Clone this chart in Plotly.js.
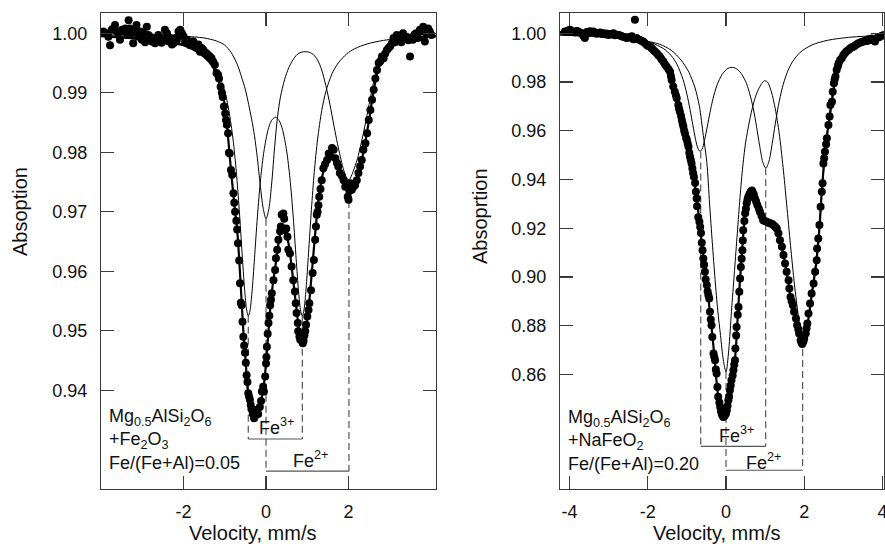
<!DOCTYPE html>
<html><head><meta charset="utf-8">
<script src="https://cdn.plot.ly/plotly-3.0.1.min.js"></script>
<style>html,body{margin:0;padding:0;background:#fff}#chart{width:885px;height:546px}</style>
</head><body><div id="chart"></div>
<script>
// ---------- LEFT PANEL: Mg0.5AlSi2O6 + Fe2O3 ----------
const leftDataX = [-3.94,-3.88,-3.82,-3.78,-3.74,-3.70,-3.66,-3.62,-3.58,-3.54,-3.49,-3.45,-3.41,-3.37,-3.33,-3.30,-3.26,-3.22,-3.18,-3.14,-3.10,-3.05,-3.01,-2.97,-2.93,-2.89,-2.85,-2.81,-2.77,-2.73,-2.69,-2.65,-2.61,-2.57,-2.53,-2.49,-2.45,-2.40,-2.36,-2.32,-2.28,-2.24,-2.20,-2.16,-2.12,-2.08,-2.04,-2.00,-1.96,-1.92,-1.88,-1.84,-1.80,-1.76,-1.72,-1.68,-1.64,-1.60,-1.56,-1.52,-1.48,-1.44,-1.40,-1.36,-1.32,-1.28,-1.24,-1.20,-1.16,-1.14,-1.10,-1.07,-1.05,-1.02,-0.99,-0.97,-0.95,-0.92,-0.90,-0.88,-0.85,-0.82,-0.79,-0.77,-0.75,-0.72,-0.70,-0.68,-0.65,-0.63,-0.61,-0.59,-0.57,-0.55,-0.53,-0.51,-0.49,-0.47,-0.45,-0.43,-0.41,-0.39,-0.37,-0.35,-0.32,-0.29,-0.27,-0.25,-0.23,-0.21,-0.19,-0.15,-0.12,-0.10,-0.07,-0.05,-0.02,0.00,0.01,0.02,0.04,0.06,0.08,0.10,0.12,0.14,0.18,0.22,0.24,0.27,0.30,0.34,0.36,0.38,0.42,0.44,0.46,0.49,0.52,0.54,0.58,0.62,0.66,0.70,0.72,0.74,0.77,0.78,0.81,0.83,0.86,0.89,0.91,0.93,0.95,0.97,1.00,1.03,1.05,1.09,1.13,1.16,1.19,1.21,1.23,1.25,1.27,1.29,1.32,1.35,1.39,1.43,1.48,1.52,1.56,1.60,1.64,1.68,1.72,1.75,1.79,1.84,1.88,1.92,1.96,1.98,2.00,2.02,2.04,2.08,2.12,2.16,2.20,2.24,2.28,2.32,2.36,2.41,2.45,2.49,2.53,2.57,2.61,2.65,2.69,2.73,2.77,2.81,2.85,2.89,2.93,2.97,3.01,3.05,3.09,3.13,3.17,3.21,3.24,3.28,3.32,3.36,3.40,3.45,3.49,3.52,3.56,3.60,3.64,3.68,3.73,3.77,3.81,3.85,3.89,3.93,3.97,4.01];
const leftDataY = [1.0003,1.0000,0.9994,0.9980,1.0006,1.0008,1.0014,1.0003,1.0000,0.9989,1.0006,1.0003,1.0008,1.0000,1.0022,1.0008,1.0000,0.9983,1.0003,1.0014,0.9994,1.0003,0.9989,1.0000,0.9985,1.0011,0.9997,0.9994,0.9986,0.9992,0.9983,0.9989,0.9997,0.9994,0.9984,0.9989,1.0006,1.0000,0.9986,0.9992,0.9981,0.9983,0.9992,0.9989,1.0003,1.0006,1.0000,0.9995,0.9986,0.9989,0.9983,0.9980,0.9986,0.9986,0.9980,0.9978,0.9981,0.9969,0.9975,0.9972,0.9968,0.9966,0.9963,0.9961,0.9958,0.9952,0.9947,0.9933,0.9930,0.9924,0.9910,0.9900,0.9893,0.9877,0.9865,0.9854,0.9846,0.9832,0.9799,0.9798,0.9770,0.9762,0.9731,0.9715,0.9700,0.9685,0.9670,0.9647,0.9618,0.9580,0.9547,0.9543,0.9515,0.9490,0.9475,0.9463,0.9446,0.9425,0.9414,0.9395,0.9389,0.9384,0.9375,0.9368,0.9360,0.9353,0.9364,0.9358,0.9367,0.9361,0.9360,0.9372,0.9382,0.9398,0.9406,0.9398,0.9423,0.9445,0.9456,0.9473,0.9495,0.9513,0.9525,0.9543,0.9552,0.9563,0.9585,0.9602,0.9622,0.9636,0.9653,0.9667,0.9675,0.9695,0.9697,0.9688,0.9669,0.9672,0.9658,0.9636,0.9630,0.9608,0.9585,0.9566,0.9546,0.9530,0.9513,0.9499,0.9490,0.9485,0.9487,0.9479,0.9483,0.9492,0.9499,0.9510,0.9524,0.9535,0.9546,0.9568,0.9597,0.9619,0.9653,0.9675,0.9695,0.9700,0.9711,0.9725,0.9738,0.9753,0.9773,0.9780,0.9787,0.9798,0.9793,0.9807,0.9804,0.9790,0.9782,0.9776,0.9765,0.9760,0.9753,0.9742,0.9745,0.9725,0.9720,0.9735,0.9748,0.9737,0.9742,0.9745,0.9753,0.9765,0.9776,0.9787,0.9804,0.9815,0.9832,0.9854,0.9871,0.9888,0.9905,0.9924,0.9938,0.9950,0.9953,0.9961,0.9958,0.9966,0.9972,0.9975,0.9978,0.9983,0.9992,0.9985,0.9997,0.9988,0.9992,0.9985,1.0000,0.9994,0.9994,0.9988,0.9961,0.9993,0.9989,0.9998,1.0000,0.9992,1.0006,1.0003,1.0011,0.9986,1.0000,1.0008,1.0003,0.9997];

const leftFitX = [-4.0,-3.0,-2.4,-2.0,-1.7,-1.5,-1.3,-1.2,-1.1,-1.0,-0.9,-0.85,-0.8,-0.75,-0.7,-0.65,-0.6,-0.55,-0.5,-0.45,-0.4,-0.35,-0.3,-0.25,-0.2,-0.15,-0.1,-0.05,0.0,0.05,0.1,0.15,0.2,0.25,0.3,0.35,0.4,0.45,0.5,0.55,0.6,0.65,0.7,0.75,0.8,0.85,0.9,0.95,1.0,1.05,1.1,1.15,1.2,1.25,1.3,1.4,1.5,1.6,1.7,1.8,1.9,2.0,2.1,2.2,2.3,2.4,2.5,2.6,2.7,2.8,3.0,3.3,3.7,4.12];
const leftFitY = [0.9995,0.9990,0.9985,0.9980,0.9970,0.9960,0.9945,0.9930,0.9910,0.9880,0.9810,0.9770,0.9735,0.9700,0.9670,0.9620,0.9560,0.9500,0.9455,0.9405,0.9375,0.9362,0.9355,0.9360,0.9365,0.9375,0.9390,0.9410,0.9445,0.9490,0.9535,0.9570,0.9595,0.9620,0.9645,0.9665,0.9675,0.9670,0.9660,0.9645,0.9620,0.9590,0.9560,0.9530,0.9500,0.9485,0.9480,0.9495,0.9520,0.9550,0.9590,0.9630,0.9670,0.9705,0.9735,0.9770,0.9790,0.9795,0.9780,0.9765,0.9750,0.9742,0.9745,0.9755,0.9780,0.9815,0.9855,0.9900,0.9935,0.9960,0.9980,0.9990,0.9993,0.9995];

const leftFe3X = [-4.0,-3.0,-2.4,-2.0,-1.7,-1.5,-1.3,-1.15,-1.0,-0.9,-0.8,-0.72,-0.65,-0.58,-0.52,-0.47,-0.43,-0.39,-0.34,-0.28,-0.21,-0.13,-0.05,0.05,0.13,0.225,0.32,0.4,0.5,0.58,0.66,0.73,0.79,0.84,0.88,0.92,0.97,1.03,1.1,1.17,1.25,1.35,1.45,1.6,1.75,1.95,2.15,2.45,2.85,3.5,4.12];
const leftFe3Y = [0.9996,0.9992,0.9988,0.9982,0.9974,0.9965,0.9950,0.9932,0.9902,0.9870,0.9822,0.9767,0.9704,0.9630,0.9570,0.9535,0.9525,0.9533,0.9565,0.9621,0.9691,0.9756,0.9802,0.9838,0.9853,0.9859,0.9853,0.9838,0.9802,0.9756,0.9691,0.9621,0.9565,0.9533,0.9525,0.9535,0.9570,0.9630,0.9704,0.9767,0.9822,0.9870,0.9902,0.9932,0.9950,0.9965,0.9974,0.9982,0.9988,0.9993,0.9995];

const leftFe2X = [-4.0,-3.0,-2.0,-1.5,-1.2,-1.0,-0.85,-0.7,-0.6,-0.5,-0.42,-0.35,-0.28,-0.21,-0.14,-0.07,0.0,0.07,0.14,0.21,0.28,0.35,0.45,0.55,0.65,0.75,0.85,0.95,1.05,1.15,1.25,1.35,1.45,1.55,1.65,1.73,1.8,1.87,1.94,2.01,2.08,2.15,2.22,2.29,2.37,2.47,2.6,2.8,3.0,3.5,4.12];
const leftFe2Y = [0.9997,0.9997,0.9995,0.9992,0.9987,0.9980,0.9968,0.9948,0.9928,0.9905,0.9880,0.9856,0.9828,0.9790,0.9745,0.9706,0.9688,0.9705,0.9750,0.9810,0.9860,0.9893,0.9922,0.9942,0.9955,0.9964,0.9968,0.9969,0.9968,0.9964,0.9955,0.9938,0.9912,0.9880,0.9843,0.9815,0.9793,0.9773,0.9759,0.9753,0.9762,0.9775,0.9790,0.9810,0.9835,0.9870,0.9915,0.9965,0.9980,0.9990,0.9994];

const leftFe3Pos = [-0.43, 0.88], leftFe3Min = [0.9525, 0.9525], leftFe3Bar = 0.9318;
const leftFe2Pos = [0.0, 2.01],   leftFe2Min = [0.9688, 0.9755], leftFe2Bar = 0.9264;

// ---------- RIGHT PANEL: Mg0.5AlSi2O6 + NaFeO2 ----------
const rightDataX = [-4.12,-4.07,-4.03,-3.99,-3.95,-3.91,-3.86,-3.82,-3.78,-3.74,-3.69,-3.65,-3.61,-3.56,-3.52,-3.48,-3.43,-3.39,-3.35,-3.31,-3.27,-3.22,-3.18,-3.14,-3.10,-3.06,-3.01,-2.97,-2.93,-2.88,-2.84,-2.80,-2.75,-2.71,-2.67,-2.63,-2.58,-2.54,-2.50,-2.45,-2.41,-2.37,-2.33,-2.29,-2.25,-2.20,-2.16,-2.12,-2.08,-2.03,-1.99,-1.94,-1.90,-1.86,-1.82,-1.77,-1.73,-1.69,-1.65,-1.60,-1.56,-1.52,-1.47,-1.43,-1.41,-1.39,-1.35,-1.31,-1.28,-1.26,-1.22,-1.20,-1.18,-1.15,-1.13,-1.11,-1.09,-1.07,-1.05,-1.02,-1.00,-0.98,-0.96,-0.94,-0.92,-0.90,-0.88,-0.86,-0.84,-0.82,-0.79,-0.77,-0.75,-0.74,-0.71,-0.68,-0.66,-0.64,-0.62,-0.60,-0.58,-0.56,-0.54,-0.52,-0.49,-0.47,-0.45,-0.43,-0.41,-0.39,-0.37,-0.35,-0.32,-0.30,-0.28,-0.26,-0.24,-0.22,-0.20,-0.17,-0.15,-0.13,-0.11,-0.09,-0.07,-0.05,-0.03,0.00,0.02,0.04,0.06,0.08,0.10,0.12,0.14,0.17,0.19,0.21,0.23,0.24,0.26,0.27,0.30,0.32,0.34,0.36,0.38,0.40,0.42,0.43,0.44,0.47,0.49,0.51,0.53,0.55,0.57,0.60,0.63,0.66,0.68,0.71,0.74,0.77,0.80,0.84,0.87,0.91,0.95,0.99,1.04,1.09,1.13,1.17,1.21,1.26,1.30,1.34,1.38,1.43,1.47,1.51,1.55,1.60,1.62,1.65,1.68,1.71,1.74,1.79,1.82,1.85,1.87,1.91,1.93,1.95,1.98,2.00,2.04,2.06,2.08,2.11,2.15,2.19,2.24,2.28,2.32,2.33,2.36,2.39,2.42,2.45,2.47,2.49,2.51,2.53,2.56,2.58,2.62,2.65,2.67,2.71,2.73,2.76,2.78,2.80,2.83,2.86,2.88,2.92,2.96,3.00,3.04,3.08,3.13,3.18,3.22,3.26,3.30,3.35,3.39,3.44,3.48,3.52,3.57,3.61,3.65,3.69,3.73,3.77,3.81,3.86,3.90,3.94,3.99,4.04];
const rightDataY = [1.0007,1.0007,1.0011,1.0014,1.0005,1.0007,1.0003,1.0009,1.0007,1.0002,1.0000,0.9990,0.9980,1.0005,1.0000,1.0008,1.0003,1.0007,1.0001,0.9998,1.0000,1.0003,0.9997,1.0000,0.9996,0.9999,0.9993,0.9997,0.9995,1.0000,0.9992,0.9994,0.9993,0.9991,0.9988,0.9986,0.9984,0.9980,0.9984,0.9982,0.9988,0.9975,1.0055,0.9980,0.9975,0.9972,0.9968,0.9966,0.9960,0.9952,0.9948,0.9945,0.9938,0.9931,0.9925,0.9918,0.9910,0.9904,0.9893,0.9883,0.9872,0.9863,0.9852,0.9842,0.9825,0.9808,0.9781,0.9760,0.9745,0.9733,0.9706,0.9690,0.9678,0.9660,0.9644,0.9630,0.9617,0.9600,0.9589,0.9570,0.9562,0.9548,0.9534,0.9510,0.9493,0.9480,0.9466,0.9445,0.9425,0.9410,0.9385,0.9350,0.9322,0.9290,0.9245,0.9226,0.9205,0.9180,0.9140,0.9110,0.9076,0.9050,0.9021,0.8990,0.8966,0.8940,0.8925,0.8912,0.8857,0.8825,0.8802,0.8754,0.8686,0.8672,0.8658,0.8620,0.8604,0.8549,0.8508,0.8485,0.8467,0.8450,0.8439,0.8432,0.8425,0.8428,0.8432,0.8440,0.8453,0.8472,0.8494,0.8510,0.8535,0.8555,0.8576,0.8596,0.8617,0.8640,0.8658,0.8706,0.8760,0.8795,0.8845,0.8877,0.8939,0.8994,0.9041,0.9075,0.9110,0.9150,0.9192,0.9230,0.9261,0.9280,0.9302,0.9318,0.9329,0.9340,0.9350,0.9355,0.9350,0.9338,0.9322,0.9310,0.9295,0.9280,0.9267,0.9250,0.9233,0.9230,0.9226,0.9222,0.9220,0.9218,0.9213,0.9206,0.9199,0.9179,0.9151,0.9124,0.9090,0.9055,0.9021,0.8987,0.8953,0.8918,0.8900,0.8884,0.8857,0.8830,0.8802,0.8785,0.8768,0.8740,0.8730,0.8725,0.8735,0.8747,0.8768,0.8790,0.8809,0.8850,0.8891,0.8932,0.8973,0.9021,0.9069,0.9117,0.9158,0.9213,0.9288,0.9350,0.9384,0.9466,0.9487,0.9514,0.9545,0.9569,0.9623,0.9658,0.9706,0.9719,0.9760,0.9795,0.9810,0.9822,0.9849,0.9865,0.9877,0.9890,0.9897,0.9910,0.9918,0.9925,0.9931,0.9938,0.9942,0.9945,0.9950,0.9955,0.9959,0.9962,0.9965,0.9966,0.9970,0.9968,0.9975,0.9972,0.9978,0.9975,0.9966,0.9980,0.9983,0.9986,0.9990,0.9993];

const rightFitX = [-4.25,-4.0,-3.5,-3.0,-2.6,-2.3,-2.1,-1.9,-1.7,-1.55,-1.4,-1.3,-1.2,-1.1,-1.0,-0.9,-0.8,-0.7,-0.6,-0.5,-0.4,-0.3,-0.2,-0.1,-0.05,0.0,0.05,0.1,0.2,0.25,0.3,0.35,0.4,0.45,0.5,0.57,0.65,0.72,0.8,0.9,1.0,1.1,1.2,1.3,1.38,1.47,1.55,1.65,1.75,1.85,1.92,1.96,2.02,2.1,2.2,2.3,2.38,2.45,2.53,2.6,2.7,2.8,2.9,3.0,3.2,3.5,3.8,4.05];
const rightFitY = [1.0005,1.0005,1.0002,0.9995,0.9985,0.9975,0.9962,0.9942,0.9910,0.9875,0.9820,0.9765,0.9700,0.9630,0.9565,0.9480,0.9380,0.9255,0.9110,0.8980,0.8840,0.8680,0.8510,0.8440,0.8425,0.8435,0.8470,0.8530,0.8625,0.8700,0.8840,0.8970,0.9080,0.9190,0.9270,0.9330,0.9350,0.9330,0.9295,0.9250,0.9228,0.9220,0.9212,0.9195,0.9150,0.9090,0.9020,0.8920,0.8845,0.8780,0.8735,0.8728,0.8755,0.8820,0.8935,0.9045,0.9180,0.9350,0.9510,0.9600,0.9710,0.9820,0.9885,0.9915,0.9940,0.9962,0.9975,0.9990];

const rightFe3X = [-4.25,-3.0,-2.3,-1.9,-1.6,-1.4,-1.25,-1.1,-1.0,-0.92,-0.85,-0.78,-0.72,-0.665,-0.61,-0.55,-0.48,-0.41,-0.33,-0.23,-0.1,0.05,0.2,0.35,0.5,0.6,0.7,0.78,0.86,0.94,1.02,1.1,1.18,1.26,1.34,1.44,1.56,1.7,1.9,2.2,2.6,3.2,4.05];
const rightFe3Y = [0.9994,0.9987,0.9975,0.9960,0.9937,0.9908,0.9871,0.9811,0.9750,0.9687,0.9625,0.9565,0.9528,0.9515,0.9525,0.9560,0.9616,0.9674,0.9733,0.9787,0.9831,0.9856,0.9859,0.9843,0.9803,0.9756,0.9689,0.9618,0.9539,0.9472,0.9446,0.9475,0.9546,0.9628,0.9703,0.9776,0.9837,0.9883,0.9922,0.9952,0.9971,0.9984,0.9991];

const rightFe2X = [-4.25,-3.0,-2.2,-1.7,-1.4,-1.15,-0.95,-0.8,-0.68,-0.58,-0.49,-0.42,-0.35,-0.28,-0.21,-0.14,-0.07,0.0,0.07,0.14,0.21,0.28,0.35,0.42,0.5,0.6,0.7,0.8,0.9,0.98,1.06,1.16,1.26,1.36,1.46,1.55,1.65,1.75,1.85,1.92,1.97,2.03,2.1,2.2,2.3,2.4,2.5,2.6,2.7,2.8,2.9,3.05,3.3,3.7,4.05];
const rightFe2Y = [0.9992,0.9985,0.9972,0.9955,0.9930,0.9890,0.9840,0.9780,0.9700,0.9580,0.9470,0.9300,0.9140,0.8990,0.8860,0.8760,0.8660,0.8610,0.8700,0.8860,0.9010,0.9160,0.9310,0.9440,0.9550,0.9640,0.9710,0.9760,0.9790,0.9805,0.9800,0.9760,0.9690,0.9590,0.9450,0.9300,0.9130,0.8970,0.8840,0.8770,0.8755,0.8770,0.8820,0.8930,0.9070,0.9240,0.9440,0.9610,0.9730,0.9820,0.9880,0.9925,0.9955,0.9972,0.9980];

const rightFe3Pos = [-0.647, 1.015], rightFe3Min = [0.9515, 0.9446], rightFe3Bar = 0.8305;
const rightFe2Pos = [0.0, 1.96],     rightFe2Min = [0.8610, 0.8750], rightFe2Bar = 0.8207;

// ---------- styling ----------
const FONT = 'Liberation Sans, Arial, Helvetica, sans-serif';
const INK = '#111';
const FRAME = '#3a3a3a';
const GUIDE = '#555';

function dashTrace(pos, mins, bar, xa, ya) {
  const x = [], y = [];
  pos.forEach((p, i) => { x.push(p, p, null); y.push(mins[i], bar, null); });
  return {x, y, xaxis: xa, yaxis: ya, mode: 'lines', hoverinfo: 'skip', showlegend: false,
          line: {color: GUIDE, width: 1.2, dash: '7px,4px'}};
}
function barTrace(pos, bar, xa, ya) {
  return {x: [pos[0], pos[1]], y: [bar, bar], xaxis: xa, yaxis: ya, mode: 'lines', hoverinfo: 'skip',
          showlegend: false, line: {color: GUIDE, width: 1.2}};
}
function thin(x, y, xa, ya) {
  return {x, y, xaxis: xa, yaxis: ya, mode: 'lines', showlegend: false,
          line: {color: '#000', width: 1, shape: 'spline', smoothing: 0.8}};
}
function fit(x, y, xa, ya) {
  return {x, y, xaxis: xa, yaxis: ya, mode: 'lines', showlegend: false,
          line: {color: '#000', width: 2.2, shape: 'spline', smoothing: 0.8}};
}
function dots(x, y, xa, ya) {
  return {x, y, xaxis: xa, yaxis: ya, mode: 'markers', showlegend: false,
          marker: {color: '#000', size: 8, line: {width: 0}}};
}

const traces = [
  thin(leftFe3X, leftFe3Y, 'x', 'y'),
  thin(leftFe2X, leftFe2Y, 'x', 'y'),
  dashTrace(leftFe3Pos, leftFe3Min, leftFe3Bar, 'x', 'y'),
  dashTrace(leftFe2Pos, leftFe2Min, leftFe2Bar, 'x', 'y'),
  barTrace(leftFe3Pos, leftFe3Bar, 'x', 'y'),
  barTrace(leftFe2Pos, leftFe2Bar, 'x', 'y'),
  fit(leftFitX, leftFitY, 'x', 'y'),
  dots(leftDataX, leftDataY, 'x', 'y'),

  thin(rightFe3X, rightFe3Y, 'x2', 'y2'),
  thin(rightFe2X, rightFe2Y, 'x2', 'y2'),
  dashTrace(rightFe3Pos, rightFe3Min, rightFe3Bar, 'x2', 'y2'),
  dashTrace(rightFe2Pos, rightFe2Min, rightFe2Bar, 'x2', 'y2'),
  barTrace(rightFe3Pos, rightFe3Bar, 'x2', 'y2'),
  barTrace(rightFe2Pos, rightFe2Bar, 'x2', 'y2'),
  fit(rightFitX, rightFitY, 'x2', 'y2'),
  dots(rightDataX, rightDataY, 'x2', 'y2')
];

const axisCommon = {
  showgrid: false, zeroline: false, showline: true, linecolor: FRAME, linewidth: 1.2,
  mirror: 'ticks', ticks: 'inside', ticklen: 13, tickwidth: 1.2, tickcolor: FRAME,
  tickfont: {family: FONT, size: 18, color: INK}, fixedrange: true, ticklabeloverflow: 'allow'
};

const leftXTicks = [-2, 0, 2];
const leftYTicks = [0.94, 0.95, 0.96, 0.97, 0.98, 0.99, 1.00];
const rightXTicks = [-4, -2, 0, 2, 4];
const rightYTicks = [0.86, 0.88, 0.90, 0.92, 0.94, 0.96, 0.98, 1.00];

const layout = {
  width: 885, height: 546,
  margin: {l: 0, r: 0, t: 0, b: 0},
  paper_bgcolor: '#fff', plot_bgcolor: '#fff',
  font: {family: FONT, size: 18, color: INK},
  showlegend: false,
  xaxis: Object.assign({}, axisCommon, {domain: [101/885, 436/885], range: [-4.0, 4.12], anchor: 'y',
          tickvals: leftXTicks, ticktext: leftXTicks.map(String), ticklabelstandoff: 6}),
  yaxis: Object.assign({}, axisCommon, {domain: [57/546, 533/546], range: [0.9234, 1.0034], anchor: 'x',
          tickvals: leftYTicks, tickformat: '.2f', ticklabelstandoff: 9}),
  xaxis2: Object.assign({}, axisCommon, {domain: [560/885, 884/885], range: [-4.246, 4.041], anchor: 'y2',
          tickvals: rightXTicks, ticktext: rightXTicks.map(String), ticklabelstandoff: 6}),
  yaxis2: Object.assign({}, axisCommon, {domain: [57/546, 533/546], range: [0.813, 1.0083], anchor: 'x2',
          tickvals: rightYTicks, tickformat: '.2f', ticklabelstandoff: 9}),
  annotations: [
    {xref: 'paper', yref: 'paper', x: 20/885, y: (546-212)/546, text: 'Absoption', textangle: -90,
     showarrow: false, xanchor: 'center', yanchor: 'middle', font: {size: 20}},
    {xref: 'paper', yref: 'paper', x: 480/885, y: (546-216)/546, text: 'Absoprtion', textangle: -90,
     showarrow: false, xanchor: 'center', yanchor: 'middle', font: {size: 20}},
    {xref: 'paper', yref: 'paper', x: 252/885, y: 0, text: 'Velocity, mm/s',
     showarrow: false, xanchor: 'center', yanchor: 'bottom', font: {size: 20}},
    {xref: 'paper', yref: 'paper', x: 716/885, y: 0, text: 'Velocity, mm/s',
     showarrow: false, xanchor: 'center', yanchor: 'bottom', font: {size: 20}},

    {xref: 'x', yref: 'y', x: -3.85, y: 0.93165, xanchor: 'left', yanchor: 'middle', align: 'left', showarrow: false,
     text: 'Mg<sub>0.5</sub>AlSi<sub>2</sub>O<sub>6</sub><br>+Fe<sub>2</sub>O<sub>3</sub><br>Fe/(Fe+Al)=0.05'},
    {xref: 'x2', yref: 'y2', x: -4.1, y: 0.833, xanchor: 'left', yanchor: 'middle', align: 'left', showarrow: false,
     text: 'Mg<sub>0.5</sub>AlSi<sub>2</sub>O<sub>6</sub><br>+NaFeO<sub>2</sub><br>Fe/(Fe+Al)=0.20'},

    {xref: 'x', yref: 'y', x: 0.26, y: 0.9339, text: 'Fe<sup>3+</sup>', showarrow: false, xanchor: 'center', yanchor: 'middle'},
    {xref: 'x', yref: 'y', x: 1.09, y: 0.9283, text: 'Fe<sup>2+</sup>', showarrow: false, xanchor: 'center', yanchor: 'middle'},
    {xref: 'x2', yref: 'y2', x: 0.27, y: 0.8354, text: 'Fe<sup>3+</sup>', showarrow: false, xanchor: 'center', yanchor: 'middle'},
    {xref: 'x2', yref: 'y2', x: 0.97, y: 0.8244, text: 'Fe<sup>2+</sup>', showarrow: false, xanchor: 'center', yanchor: 'middle'}
  ]
};

Plotly.newPlot('chart', traces, layout, {staticPlot: true, displayModeBar: false});
</script>
</body></html>
